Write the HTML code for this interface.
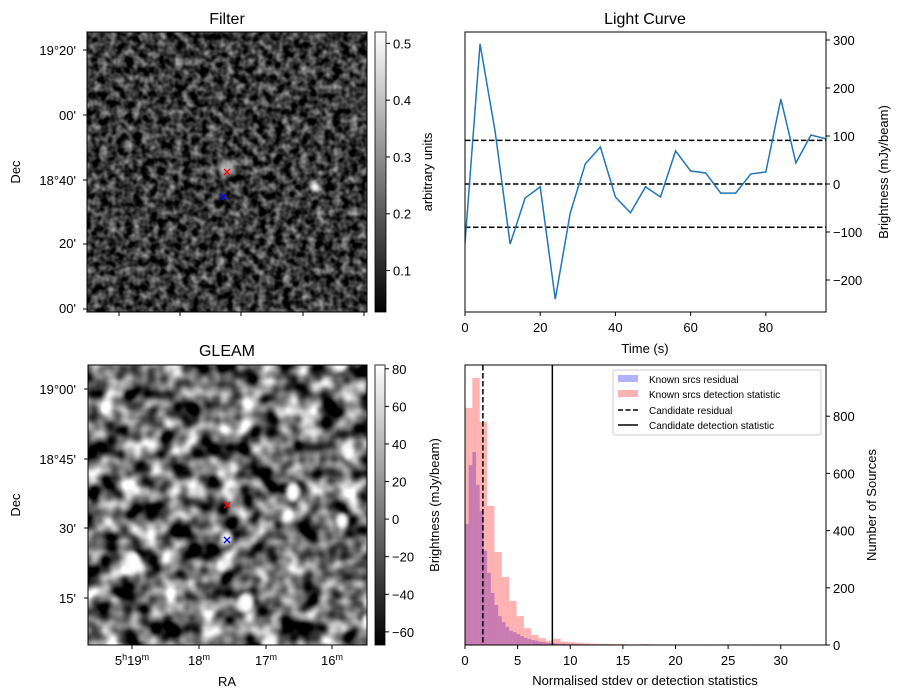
<!DOCTYPE html>
<html><head><meta charset="utf-8"><style>
body{margin:0;background:#fff;}
svg{display:block;font-family:"Liberation Sans",sans-serif;}
</style></head><body>
<svg id="fig" width="902" height="699" viewBox="0 0 902 699" xmlns="http://www.w3.org/2000/svg">
<defs>
<filter id="nf" x="0" y="0" width="100%" height="100%" color-interpolation-filters="sRGB">
<feTurbulence type="fractalNoise" baseFrequency="0.12" numOctaves="2" seed="3"/>
<feColorMatrix type="matrix" values="1.1 0 0 0 -0.33  1.1 0 0 0 -0.33  1.1 0 0 0 -0.33  0 0 0 0 1"/>
</filter>
<filter id="gf" x="0" y="0" width="100%" height="100%" color-interpolation-filters="sRGB">
<feTurbulence type="fractalNoise" baseFrequency="0.05" numOctaves="2" seed="7"/>
<feColorMatrix type="matrix" values="2.1 0 0 0 -0.62  2.1 0 0 0 -0.62  2.1 0 0 0 -0.62  0 0 0 0 1"/>
</filter>
<filter id="blur2"><feGaussianBlur stdDeviation="2"/></filter>
<linearGradient id="cb" x1="0" y1="1" x2="0" y2="0"><stop offset="0" stop-color="#000"/><stop offset="1" stop-color="#fff"/></linearGradient>
<clipPath id="c1"><rect x="87" y="32" width="280" height="280"/></clipPath>
<clipPath id="c2"><rect x="88" y="365" width="279" height="280"/></clipPath>
<clipPath id="c3"><rect x="465" y="32" width="361" height="280"/></clipPath>
<clipPath id="c4"><rect x="465" y="365" width="361" height="280"/></clipPath>
</defs>

<g>
<text x="227" y="24" font-size="16" text-anchor="middle">Filter</text>
<rect x="87" y="32" width="280" height="280" fill="#333" filter="url(#nf)"/>
<g clip-path="url(#c1)" filter="url(#blur2)">
<circle cx="227" cy="168" r="8" fill="#ddd" opacity="0.7"/>
<circle cx="315" cy="187" r="5" fill="#fff"/>
</g>
<rect x="87" y="32" width="280" height="280" fill="none" stroke="#000" stroke-width="1"/>
<g font-size="13" text-anchor="end">
<text x="76" y="55">19°20'</text><text x="76" y="120">00'</text><text x="76" y="185">18°40'</text><text x="76" y="248">20'</text><text x="76" y="313">00'</text>
</g>
<g stroke="#000"><line x1="83" y1="50" x2="87" y2="50"/><line x1="83" y1="115" x2="87" y2="115"/><line x1="83" y1="180" x2="87" y2="180"/><line x1="83" y1="244" x2="87" y2="244"/><line x1="83" y1="309" x2="87" y2="309"/>
<line x1="119" y1="312" x2="119" y2="316"/><line x1="180" y1="312" x2="180" y2="316"/><line x1="241" y1="312" x2="241" y2="316"/><line x1="303" y1="312" x2="303" y2="316"/><line x1="364" y1="312" x2="364" y2="316"/></g>
<text x="20" y="172" font-size="13" text-anchor="middle" transform="rotate(-90 20 172)">Dec</text>
<g stroke-width="1.3">
<path d="M224 169l6 6M230 169l-6 6" stroke="#f00"/>
<path d="M220 194l6 6M226 194l-6 6" stroke="#00f"/>
</g>
<rect x="375" y="32" width="11" height="280" fill="url(#cb)" stroke="#000" stroke-width="0.8"/>
<g id="cb1ticks" font-size="13"></g>
<text x="432" y="172" font-size="13" text-anchor="middle" transform="rotate(-90 432 172)">arbitrary units</text>
</g>

<g>
<text x="227" y="356" font-size="16" text-anchor="middle">GLEAM</text>
<rect x="88" y="365" width="279" height="280" fill="#777" filter="url(#gf)"/>
<g clip-path="url(#c2)" fill="#fff" filter="url(#blur2)">
<ellipse cx="133" cy="563" rx="8" ry="11"/><ellipse cx="246" cy="603" rx="8" ry="10"/><ellipse cx="293" cy="492" rx="7" ry="10"/>
<ellipse cx="342" cy="521" rx="6" ry="8"/><ellipse cx="349" cy="453" rx="6" ry="8"/><ellipse cx="340" cy="365" rx="7" ry="7"/>
<ellipse cx="268" cy="643" rx="7" ry="6"/><ellipse cx="227" cy="538" rx="5" ry="6"/><ellipse cx="221" cy="565" rx="5" ry="6"/><ellipse cx="366" cy="622" rx="4" ry="8"/>
</g>
<rect x="88" y="365" width="279" height="280" fill="none" stroke="#000"/>
<g font-size="13" text-anchor="end">
<text x="76" y="394">19°00'</text><text x="76" y="464">18°45'</text><text x="76" y="533">30'</text><text x="76" y="603">15'</text>
</g>
<g stroke="#000"><line x1="84" y1="389" x2="88" y2="389"/><line x1="84" y1="459" x2="88" y2="459"/><line x1="84" y1="528" x2="88" y2="528"/><line x1="84" y1="598" x2="88" y2="598"/>
<line x1="132" y1="645" x2="132" y2="649"/><line x1="199" y1="645" x2="199" y2="649"/><line x1="266" y1="645" x2="266" y2="649"/><line x1="332" y1="645" x2="332" y2="649"/></g>
<g font-size="13" text-anchor="middle">
<text x="132" y="665">5<tspan font-size="9" dy="-5">h</tspan><tspan dy="5">19</tspan><tspan font-size="9" dy="-5">m</tspan></text>
<text x="199" y="665">18<tspan font-size="9" dy="-5">m</tspan></text>
<text x="266" y="665">17<tspan font-size="9" dy="-5">m</tspan></text>
<text x="332" y="665">16<tspan font-size="9" dy="-5">m</tspan></text>
</g>
<text x="227" y="686" font-size="13" text-anchor="middle">RA</text>
<text x="20" y="505" font-size="13" text-anchor="middle" transform="rotate(-90 20 505)">Dec</text>
<g stroke-width="1.3">
<path d="M224 502l6 6M230 502l-6 6" stroke="#f00"/>
<path d="M224 537l6 6M230 537l-6 6" stroke="#00f"/>
</g>
<rect x="375" y="365" width="10" height="280" fill="url(#cb)" stroke="#000" stroke-width="0.8"/>
<g id="cb2ticks" font-size="13"></g>
<text x="439" y="505" font-size="13" text-anchor="middle" transform="rotate(-90 439 505)">Brightness (mJy/beam)</text>
</g>

<g>
<text x="645" y="24" font-size="16" text-anchor="middle">Light Curve</text>
<g id="lc" clip-path="url(#c3)"></g>
<rect x="465" y="32" width="361" height="280" fill="none" stroke="#000"/>
<g id="lcax" font-size="13"></g>
<text x="645" y="353" font-size="13" text-anchor="middle">Time (s)</text>
<text x="888" y="172" font-size="13" text-anchor="middle" transform="rotate(-90 888 172)">Brightness (mJy/beam)</text>
</g>

<g>
<g id="hist" clip-path="url(#c4)"></g>
<rect x="465" y="365" width="361" height="280" fill="none" stroke="#000"/>
<g id="hax" font-size="13"></g>
<text x="645" y="685" font-size="13" text-anchor="middle">Normalised stdev or detection statistics</text>
<text x="876" y="505" font-size="13" text-anchor="middle" transform="rotate(-90 876 505)">Number of Sources</text>
<g font-size="10">
<rect x="613" y="370" width="208" height="65" fill="#fff" fill-opacity="0.8" stroke="#ccc" rx="2"/>
<rect x="618" y="375" width="20" height="7" fill="#0000ff" fill-opacity="0.3"/><text x="649" y="383">Known srcs residual</text>
<rect x="618" y="390" width="20" height="7" fill="#ff0000" fill-opacity="0.3"/><text x="649" y="398">Known srcs detection statistic</text>
<line x1="618" y1="410" x2="638" y2="410" stroke="#000" stroke-width="1.5" stroke-dasharray="5,2.5"/><text x="649" y="414">Candidate residual</text>
<line x1="618" y1="425" x2="638" y2="425" stroke="#000" stroke-width="1.5"/><text x="649" y="429">Candidate detection statistic</text>
</g>
</g>
</svg>
<script>
const lcTimes=[0,4,8,12,16,20,24,28,32,36,40,44,48,52,56,60,64,68,72,76,80,84,88,92,96];
const lcValues=[-123,292,110,-125,-29,-6,-240,-60,42,77,-27,-60,-6,-27,69,27,23,-19,-19,21,25,177,44,102,94];
const lcThresholds=[91,0,-90];
const lcXTicks=[0,20,40,60,80];
const lcYTicks=[-200,-100,0,100,200,300];
const resBinWidth=0.35;
const resCounts=[423,629,675,560,469,330,252,182,140,101,80,63,50,45,38,31,25,21,17,15,12,10,8,7,6,5,5,4,3,3,3,2,2,2,1,2,1,1,2,1,1,1,0,1,1,0,1,0,0,1];
const detBinWidth=0.7;
const detCounts=[829,934,780,486,325,238,154,101,59,35,24,15,22,12,10,8,6,5,4,4,3,3,2,2,3,2,1,1,1,1,1,1,2,1,1,2,1,1,1,2,1,1,1,1,1,1,1,1];
const candidateResidual=1.7;
const candidateDetection=8.3;
const hXTicks=[0,5,10,15,20,25,30];
const hYTicks=[0,200,400,600,800];
const cb1Ticks=[0.1,0.2,0.3,0.4,0.5];
const cb2Ticks=[-60,-40,-20,0,20,40,60,80];

const NS="http://www.w3.org/2000/svg";
function mk(tag,attrs,parent,text){const e=document.createElementNS(NS,tag);for(const k in attrs)e.setAttribute(k,attrs[k]);if(text!==undefined)e.textContent=text;parent.appendChild(e);return e;}
const fmtNum=v=>(v<0?"\u2212":"")+Math.abs(v);

const cb1Y=v=>312-(v-0.027)/(0.52-0.027)*280;
const g1=document.getElementById('cb1ticks');
cb1Ticks.forEach(v=>{const y=cb1Y(v);
 mk('line',{x1:386,y1:y,x2:390,y2:y,stroke:'#000'},g1);
 const t=mk('text',{x:393,y:y+5},g1,v.toFixed(1));
 
 });
const cb2Y=v=>645-(v+67)/(82+67)*280;
const g2=document.getElementById('cb2ticks');
cb2Ticks.forEach(v=>{const y=cb2Y(v);
 mk('line',{x1:385,y1:y,x2:389,y2:y,stroke:'#000'},g2);
 const t=mk('text',{x:392,y:y+5},g2,fmtNum(v));
 
 });

const lx=t=>465+t/96*361;
const ly=v=>184-v*0.48;
const lc=document.getElementById('lc');
lcThresholds.forEach(v=>{const l=mk('line',{x1:465,x2:826,y1:ly(v),y2:ly(v),stroke:'#000','stroke-width':1.5,'stroke-dasharray':'5.5,2.5'},lc);
 
 });
const pl=mk('polyline',{points:lcTimes.map((t,i)=>lx(t)+','+ly(lcValues[i])).join(' '),fill:'none',stroke:'#1f77b4','stroke-width':1.5},lc);


const lax=document.getElementById('lcax');
lcXTicks.forEach(v=>{const x=lx(v);mk('line',{x1:x,x2:x,y1:312,y2:316,stroke:'#000'},lax);
 const t=mk('text',{x:x,y:332,'text-anchor':'middle'},lax,v);
 
 });
lcYTicks.forEach(v=>{const y=ly(v);mk('line',{x1:826,x2:830,y1:y,y2:y,stroke:'#000'},lax);
 const t=mk('text',{x:833,y:y+5},lax,fmtNum(v));
 
 });

const hx=v=>465+v/34.3*361;
const hy=c=>645-c*0.286;
const hist=document.getElementById('hist');
resCounts.forEach((c,i)=>{if(!c)return;const x0=hx(i*resBinWidth),x1=hx((i+1)*resBinWidth);
 const r=mk('rect',{x:x0,y:hy(c),width:x1-x0,height:645-hy(c),fill:'#0000ff','fill-opacity':0.3},hist);
 
 });
detCounts.forEach((c,i)=>{if(!c)return;const x0=hx(i*detBinWidth),x1=hx((i+1)*detBinWidth);
 const r=mk('rect',{x:x0,y:hy(c),width:x1-x0,height:645-hy(c),fill:'#ff0000','fill-opacity':0.3},hist);
 
 });
const cr=mk('line',{x1:hx(candidateResidual),x2:hx(candidateResidual),y1:365,y2:645,stroke:'#000','stroke-width':1.5,'stroke-dasharray':'5.5,2.5'},hist);


const cd=mk('line',{x1:hx(candidateDetection),x2:hx(candidateDetection),y1:365,y2:645,stroke:'#000','stroke-width':1.5},hist);


const hax=document.getElementById('hax');
hXTicks.forEach(v=>{const x=hx(v);mk('line',{x1:x,x2:x,y1:645,y2:649,stroke:'#000'},hax);
 const t=mk('text',{x:x,y:665,'text-anchor':'middle'},hax,v);
 
 });
hYTicks.forEach(v=>{const y=hy(v);mk('line',{x1:826,x2:830,y1:y,y2:y,stroke:'#000'},hax);
 const t=mk('text',{x:833,y:y+5},hax,v);
 
 });
</script>
</body></html>
